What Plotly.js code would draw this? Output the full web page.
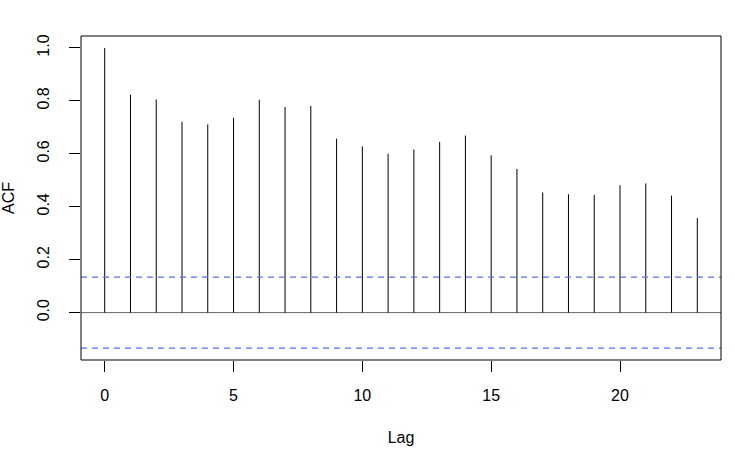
<!DOCTYPE html>
<html>
<head>
<meta charset="utf-8">
<script src="https://cdn.plot.ly/plotly-3.0.1.min.js"></script>
<style>html,body{margin:0;padding:0;background:#fff;}#chart{width:735px;height:450px;}</style>
</head>
<body>
<div id="chart"></div>
<script>
const lags = [0,1,2,3,4,5,6,7,8,9,10,11,12,13,14,15,16,17,18,19,20,21,22,23];
const acf = [1.000,0.823,0.805,0.721,0.711,0.736,0.804,0.777,0.781,0.657,0.628,0.600,
             0.616,0.645,0.669,0.594,0.543,0.454,0.447,0.445,0.481,0.488,0.442,0.357];
const ciBound = 0.134;
const xTicks = [0,5,10,15,20];
const yTicks = [0.0,0.2,0.4,0.6,0.8,1.0];
const yTickText = ["0.0","0.2","0.4","0.6","0.8","1.0"];

const sx = [], sy = [];
lags.forEach((l,i)=>{ sx.push(l,l,null); sy.push(0,acf[i],null); });

const font = {family:"Liberation Sans, Arial, sans-serif", size:16, color:"#000"};

const data = [{
  type:"scatter", mode:"lines", x:sx, y:sy,
  line:{color:"#000", width:1}, hoverinfo:"skip", showlegend:false
}];

const layout = {
  width:735, height:450,
  margin:{l:81, r:14, t:36, b:90},
  paper_bgcolor:"#fff", plot_bgcolor:"#fff",
  font:font,
  showlegend:false,
  xaxis:{
    range:[-0.92,23.92], tickvals:xTicks, ticktext:xTicks.map(String),
    ticks:"outside", ticklen:11, tickcolor:"#000", tickwidth:1,
    ticklabelstandoff:10,
    showgrid:false, zeroline:false, showline:false,
    title:{text:"Lag", font:font, standoff:28}
  },
  yaxis:{
    range:[-0.179,1.045], tickvals:yTicks, ticktext:yTickText, tickangle:-90,
    ticks:"outside", ticklen:11, tickcolor:"#000", tickwidth:1,
    ticklabelstandoff:14,
    showgrid:false, zeroline:false, showline:false,
    title:{text:"ACF", font:font, standoff:20}
  },
  shapes:[
    {type:"line", xref:"paper", x0:0, x1:1, yref:"y", y0:0, y1:0, line:{color:"#666", width:1}, layer:"below"},
    {type:"line", xref:"paper", x0:0, x1:1, yref:"y", y0:ciBound, y1:ciBound, line:{color:"#5a6cff", width:1.2, dash:"6px,5px"}},
    {type:"line", xref:"paper", x0:0, x1:1, yref:"y", y0:-ciBound, y1:-ciBound, line:{color:"#5a6cff", width:1.2, dash:"6px,5px"}},
    {type:"rect", xref:"paper", yref:"paper", x0:0, x1:1, y0:0, y1:1, line:{color:"#000", width:1}}
  ]
};

Plotly.newPlot("chart", data, layout, {staticPlot:true, displayModeBar:false});
</script>
</body>
</html>
